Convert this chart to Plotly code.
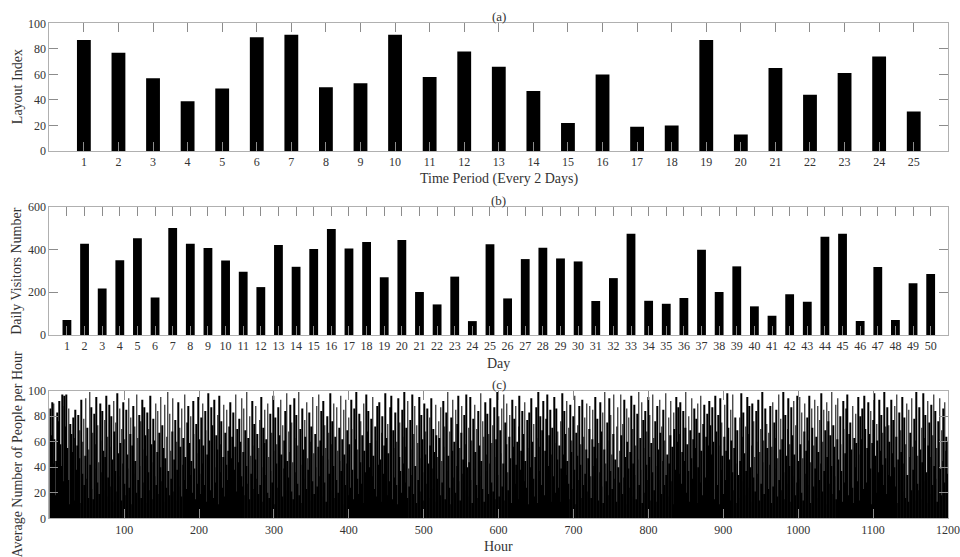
import plotly.graph_objects as go

# ---- data ----
period = list(range(1, 26))
layout_index = [87, 77, 57, 39, 49, 89, 91, 50, 53, 91, 58, 78, 66, 47, 22, 60, 19, 20, 87, 13, 65, 44, 61, 74, 31]

day = list(range(1, 51))
daily_visitors = [70, 427, 217, 349, 453, 175, 500, 427, 407, 348, 296, 224, 421, 319, 402, 496, 405, 435, 270, 444,
                  201, 143, 273, 65, 424, 171, 355, 408, 358, 344, 159, 266, 474, 160, 146, 173, 399, 201, 321, 134,
                  90, 190, 156, 460, 474, 65, 318, 70, 242, 285]

people_per_hour = [
    86, 34, 65, 91, 43, 90, 62, 18, 45, 27, 83, 76, 92, 13, 58, 41, 97, 88, 29, 96, 72, 40, 97, 55, 30, 86, 11, 74, 66, 20, 52, 79, 14, 63, 85, 38, 57, 24, 81, 47,
    69, 12, 93, 35, 60, 78, 26, 49, 94, 31, 71, 16, 54, 99, 42, 87, 23, 67, 15, 82, 39, 58, 95, 28, 73, 44, 19, 90, 61, 36, 84, 53, 22, 77, 48, 96, 17, 64, 32, 89,
    56, 25, 80, 46, 13, 92, 68, 37, 75, 21, 98, 51, 33, 86, 59, 14, 70, 43, 91, 27, 62, 18, 85, 50, 39, 94, 24, 66, 79, 11, 57, 88, 35, 72, 45, 20, 97, 63, 30, 81,
    41, 76, 16, 93, 54, 28, 87, 65, 12, 49, 83, 36, 70, 22, 96, 58, 44, 15, 78, 61, 33, 90, 26, 52, 84, 19, 67, 40, 95, 29, 73, 55, 13, 89, 47, 24, 64, 99, 37, 18,
    82, 53, 31, 68, 94, 21, 46, 77, 14, 60, 38, 91, 25, 71, 56, 17, 86, 42, 63, 30, 97, 48, 23, 75, 12, 88, 59, 34, 80, 45, 20, 92, 66, 39, 15, 74, 51, 27, 95, 62,
    35, 19, 79, 43, 90, 57, 26, 84, 69, 13, 50, 98, 32, 61, 22, 87, 45, 73, 16, 93, 40, 28, 65, 54, 81, 11, 96, 36, 58, 76, 24, 48, 89, 17, 67, 42, 85, 30, 53, 72,
    14, 91, 47, 64, 29, 83, 38, 56, 97, 21, 70, 44, 12, 78, 60, 33, 94, 25, 52, 86, 18, 69, 41, 99, 27, 63, 15, 80, 49, 35, 92, 57, 23, 74, 46, 88, 31, 66, 19, 55,
    77, 26, 95, 40, 13, 71, 59, 85, 34, 62, 20, 90, 48, 16, 82, 37, 67, 28, 96, 53, 11, 79, 43, 58, 24, 87, 65, 30, 93, 50, 17, 73, 39, 61, 84, 22, 98, 45, 32, 68,
    52, 89, 21, 75, 44, 15, 94, 63, 36, 81, 27, 57, 99, 18, 70, 42, 12, 86, 54, 31, 77, 64, 23, 91, 47, 38, 83, 14, 60, 72, 29, 95, 51, 19, 66, 40, 88, 25, 56, 97,
    33, 61, 84, 17, 49, 92, 28, 73, 55, 13, 80, 46, 67, 35, 98, 22, 58, 76, 41, 90, 16, 64, 30, 87, 53, 20, 71, 45, 96, 37, 62, 11, 85, 50, 26, 93, 43, 69, 18, 79,
    58, 24, 93, 70, 38, 15, 86, 47, 62, 99, 31, 54, 19, 82, 44, 76, 27, 65, 12, 90, 53, 36, 97, 21, 68, 84, 40, 14, 59, 78, 33, 95, 49, 23, 72, 61, 17, 88, 42, 29,
    91, 46, 13, 67, 80, 35, 57, 22, 98, 63, 18, 74, 51, 29, 87, 40, 96, 15, 69, 55, 32, 83, 26, 60, 11, 94, 48, 75, 37, 20, 85, 64, 43, 99, 28, 56, 71, 16, 92, 39,
    25, 77, 54, 34, 97, 19, 66, 88, 41, 12, 73, 59, 30, 95, 47, 21, 81, 62, 36, 14, 90, 50, 68, 27, 86, 43, 16, 79, 57, 94, 23, 39, 70, 52, 13, 89, 65, 31, 48, 76,
    63, 18, 87, 45, 28, 92, 56, 72, 15, 83, 37, 99, 49, 24, 68, 11, 79, 53, 93, 32, 60, 20, 85, 41, 74, 96, 29, 55, 14, 67, 88, 35, 46, 81, 22, 58, 97, 40, 17, 71,
    44, 95, 30, 61, 12, 78, 39, 89, 52, 26, 70, 16, 84, 57, 33, 98, 45, 23, 76, 64, 13, 91, 37, 50, 82, 19, 66, 43, 94, 28, 59, 73, 21, 87, 48, 15, 62, 99, 34, 80,
    17, 69, 51, 86, 25, 43, 97, 14, 75, 58, 90, 36, 22, 64, 81, 47, 12, 93, 31, 56, 78, 27, 88, 42, 60, 15, 72, 96, 38, 53, 19, 84, 66, 29, 91, 45, 24, 77, 55, 11,
    83, 40, 22, 94, 60, 31, 74, 17, 48, 87, 63, 12, 99, 37, 56, 80, 26, 69, 44, 92, 18, 53, 35, 78, 97, 41, 28, 65, 85, 13, 50, 71, 33, 95, 59, 20, 86, 46, 68, 24,
    57, 13, 76, 39, 98, 50, 19, 84, 66, 34, 92, 45, 27, 71, 15, 89, 52, 61, 23, 80, 38, 96, 11, 67, 49, 73, 30, 88, 42, 58, 16, 93, 26, 64, 79, 35, 54, 90, 21, 47,
    70, 88, 33, 16, 62, 85, 41, 56, 95, 22, 47, 78, 14, 59, 36, 91, 68, 25, 83, 12, 54, 99, 43, 29, 75, 61, 18, 94, 37, 81, 50, 23, 66, 97, 31, 46, 13, 72, 87, 40,
    28, 53, 97, 65, 19, 74, 32, 93, 48, 11, 86, 60, 39, 79, 24, 52, 96, 17, 70, 43, 89, 34, 57, 15, 82, 46, 99, 26, 63, 38, 91, 12, 77, 55, 20, 84, 42, 68, 30, 95,
    48, 81, 14, 59, 36, 97, 63, 22, 76, 41, 13, 88, 54, 30, 93, 67, 19, 72, 45, 85, 26, 61, 98, 34, 50, 17, 79, 43, 65, 92, 29, 56, 11, 83, 70, 38, 95, 24, 60, 87,
    35, 66, 91, 27, 52, 16, 84, 45, 71, 99, 20, 58, 37, 80, 13, 69, 47, 94, 31, 62, 86, 23, 55, 78, 12, 90, 40, 67, 28, 96, 53, 18, 74, 44, 89, 32, 64, 15, 82, 57,
    92, 21, 73, 50, 87, 33, 60, 15, 96, 42, 68, 26, 81, 57, 11, 94, 38, 75, 49, 19, 64, 89, 30, 53, 98, 24, 71, 46, 14, 85, 61, 36, 97, 22, 55, 79, 43, 12, 69, 34,
    16, 79, 45, 98, 29, 64, 83, 51, 18, 72, 37, 95, 24, 66, 88, 40, 13, 57, 90, 32, 76, 48, 21, 84, 60, 35, 93, 14, 52, 70, 27, 99, 44, 61, 19, 86, 38, 74, 55, 23,
    67, 42, 88, 12, 56, 91, 25, 75, 39, 63, 85, 17, 47, 97, 30, 54, 78, 22, 62, 99, 36, 15, 81, 49, 27, 70, 94, 41, 58, 13, 87, 65, 33, 92, 50, 18, 73, 28, 96, 45,
    31, 95, 58, 20, 83, 47, 14, 68, 90, 35, 53, 79, 26, 61, 96, 12, 44, 86, 71, 25, 57, 93, 39, 64, 16, 88, 52, 30, 77, 43, 98, 21, 60, 85, 37, 69, 11, 91, 48, 76,
    84, 27, 65, 41, 99, 19, 73, 56, 33, 89, 15, 62, 94, 46, 22, 80, 58, 37, 13, 92, 70, 28, 51, 86, 43, 97, 18, 66, 35, 75, 54, 24, 88, 12, 63, 40, 82, 59, 29, 95,
    50, 14, 80, 62, 37, 86, 23, 96, 45, 70, 28, 55, 17, 91, 66, 39, 84, 11, 59, 77, 32, 98, 49, 20, 74, 61, 36, 93, 15, 53, 81, 42, 67, 26, 99, 47, 72, 19, 87, 34,
    73, 60, 33, 93, 18, 51, 77, 40, 88, 25, 64, 97, 12, 46, 83, 30, 69, 52, 95, 21, 43, 79, 16, 58, 90, 34, 13, 85, 48, 67, 22, 94, 56, 38, 78, 14, 61, 99, 27, 49,
    22, 87, 54, 15, 71, 44, 98, 29, 63, 81, 36, 12, 92, 57, 75, 19, 48, 89, 26, 65, 97, 41, 84, 31, 55, 13, 76, 62, 94, 39, 18, 69, 45, 86, 28, 91, 53, 64, 35, 60,
]
assert len(people_per_hour) == 1200, len(people_per_hour)
hour = list(range(1, len(people_per_hour) + 1))

panel_titles = ["(a)", "(b)", "(c)"]
x_titles = ["Time Period (Every 2 Days)", "Day", "Hour"]
y_titles = ["Layout Index", "Daily Visitors Number", "Average Number of People per Hour"]

# ---- figure ----
W, H = 960, 557
FONT = "Liberation Serif, Times New Roman, serif"
TXT = "#333333"
AX = "#b0b0b0"

def py(pix):
    return 1 - pix / H

x_dom = [49.3 / W, 948.3 / W]
y_doms = [[py(151), py(23.3)], [py(335), py(206.7)], [py(518.3), py(390.7)]]

fig = go.Figure()
fig.add_trace(go.Bar(x=period, y=layout_index, width=0.4, marker=dict(color="black", line=dict(width=0)),
                     xaxis="x", yaxis="y"))
fig.add_trace(go.Bar(x=day, y=daily_visitors, width=0.5, marker=dict(color="black", line=dict(width=0)),
                     xaxis="x2", yaxis="y2"))
fig.add_trace(go.Bar(x=hour, y=people_per_hour, width=0.8, marker=dict(color="black", line=dict(width=0)),
                     xaxis="x3", yaxis="y3"))

common = dict(showline=True, linecolor=AX, linewidth=1, mirror="allticks", ticks="inside",
              ticklen=9, tickcolor="#8c8c8c", tickwidth=1, showgrid=False, zeroline=False,
              automargin=False, tickfont=dict(family=FONT, size=12, color=TXT))

fig.update_layout(
    template="none",
    width=W, height=H, margin=dict(l=0, r=0, t=0, b=0, pad=0, autoexpand=False),
    paper_bgcolor="white", plot_bgcolor="white", showlegend=False,
    font=dict(family=FONT, color=TXT),
    xaxis=dict(domain=x_dom, range=[0, 26], tickmode="array", tickvals=period, anchor="y", **common),
    yaxis=dict(domain=y_doms[0], range=[0, 100], tickvals=[0, 20, 40, 60, 80, 100], anchor="x", **common),
    xaxis2=dict(domain=x_dom, range=[0, 51], tickmode="array", tickvals=day, anchor="y2", **common),
    yaxis2=dict(domain=y_doms[1], range=[0, 600], tickvals=[0, 200, 400, 600], anchor="x2", **common),
    xaxis3=dict(domain=x_dom, range=[0, 1200.5], tickmode="array",
                tickvals=[100, 200, 300, 400, 500, 600, 700, 800, 900, 1000, 1100, 1200], anchor="y3", **common),
    yaxis3=dict(domain=y_doms[2], range=[0, 100], tickvals=[0, 20, 40, 60, 80, 100], anchor="x3", **common),
)

xc = (49.3 + 948.3) / 2 / W
ann = []
title_y = [16.5, 200, 384]
xt_y = [179, 363, 546.5]
yt_y = [(23.3 + 151) / 2, (206.7 + 335) / 2, (390.7 + 518.3) / 2]
for i in range(3):
    ann.append(dict(text=panel_titles[i], x=xc, y=py(title_y[i]), xref="paper", yref="paper",
                    xanchor="center", yanchor="middle", showarrow=False,
                    font=dict(family=FONT, size=13, color=TXT)))
    ann.append(dict(text=x_titles[i], x=xc, y=py(xt_y[i]), xref="paper", yref="paper",
                    xanchor="center", yanchor="middle", showarrow=False,
                    font=dict(family=FONT, size=14, color=TXT)))
    ann.append(dict(text=y_titles[i], x=17 / W, y=py(yt_y[i]), xref="paper", yref="paper",
                    xanchor="center", yanchor="middle", showarrow=False, textangle=-90,
                    font=dict(family=FONT, size=14, color=TXT)))
fig.update_layout(annotations=ann)

fig.write_html("out.html")
